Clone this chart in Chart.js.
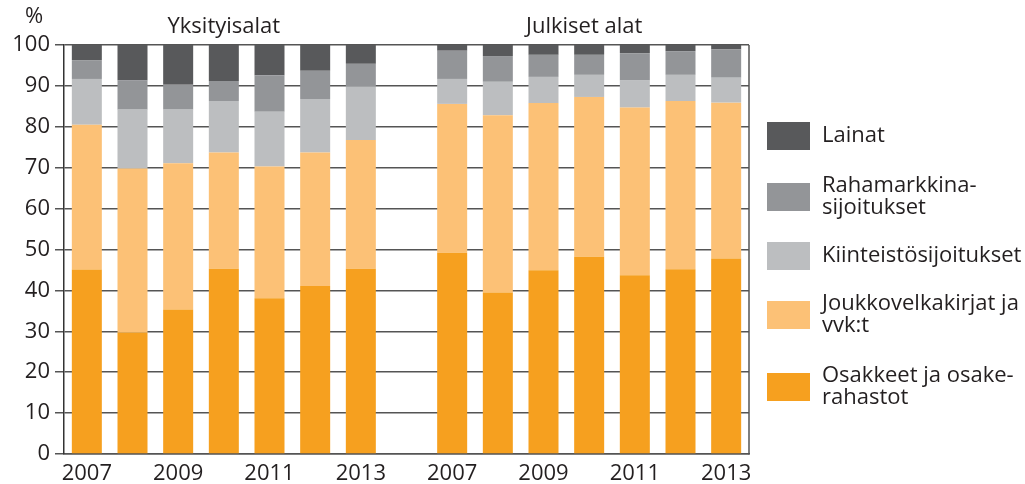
<!DOCTYPE html>
<html>
<head>
<meta charset="utf-8">
<script src="https://cdn.jsdelivr.net/npm/chart.js@4/dist/chart.umd.min.js"></script>
<style>
html,body{margin:0;padding:0;background:#fff;}
canvas{display:block;}
</style>
</head>
<body>
<canvas id="c" width="1025" height="484"></canvas>
<script>
const categories = ['2007','2008','2009','2010','2011','2012','2013','','2007','2008','2009','2010','2011','2012','2013'];
const tickYears = ['2007','2009','2011','2013'];
const groupTitles = ['Yksityisalat','Julkiset alat'];
const yTicks = [0,10,20,30,40,50,60,70,80,90,100];

const osakkeet      = [45.1,29.7,35.3,45.3,38.1,41.1,45.3,null,49.2,39.5,44.9,48.2,43.7,45.2,47.8];
const joukkovelka   = [35.4,40.1,35.8,28.4,32.2,32.6,31.5,null,36.4,43.3,40.9,39.1,41.0,41.1,38.1];
const kiinteisto    = [11.2,14.4,13.1,12.6,13.4,13.1,13.0,null, 6.1, 8.2, 6.4, 5.4, 6.6, 6.4, 6.1];
const rahamarkkina  = [ 4.6, 7.2, 6.1, 4.9, 8.9, 6.9, 5.6,null, 6.9, 6.3, 5.4, 4.9, 6.7, 5.8, 6.9];
const lainat        = [ 3.7, 8.6, 9.7, 8.8, 7.4, 6.3, 4.6,null, 1.4, 2.7, 2.4, 2.4, 2.0, 1.5, 1.1];

const seriesNames = [['Osakkeet ja osake-','rahastot'],['Joukkovelkakirjat ja','vvk:t'],['Kiinteistösijoitukset'],['Rahamarkkina-','sijoitukset'],['Lainat']];
const colors = ['#f6a01f','#fcc176','#bcbec0','#939598','#58595b'];

const FONT = 'Open Sans';
const FS = 22;
const TXT = '#231f20';

const decor = {
  id:'decor',
  afterDraw(chart){
    const ctx = chart.ctx, ca = chart.chartArea, xs = chart.scales.x;
    ctx.save();
    ctx.strokeStyle = '#555';
    ctx.lineWidth = 1.5;
    ctx.beginPath(); ctx.moveTo(ca.right, ca.top); ctx.lineTo(ca.right, ca.bottom+0.5); ctx.stroke();
    ctx.fillStyle = TXT;
    ctx.font = FS+'px "'+FONT+'"';
    ctx.textAlign = 'center'; ctx.textBaseline = 'middle';
    ctx.fillText('%', 34, 17);
    ctx.fillText(groupTitles[0], xs.getPixelForValue(3), 27);
    ctx.fillText(groupTitles[1], xs.getPixelForValue(11) - 5, 27);
    const centers = [136,197,256,315,387];
    const order = [4,3,2,1,0];
    ctx.textAlign = 'left';
    order.forEach((di,i)=>{
      const cy = centers[i];
      ctx.fillStyle = colors[di];
      ctx.fillRect(ca.right+18, cy-14, 43, 28);
      ctx.fillStyle = TXT;
      const lines = seriesNames[di];
      const lh = 22;
      lines.forEach((t,k)=>{
        ctx.fillText(t, ca.right+73, cy + (k-(lines.length-1)/2)*lh);
      });
    });
    ctx.restore();
  }
};

new Chart(document.getElementById('c'), {
  type:'bar',
  data:{
    labels:categories,
    datasets:[osakkeet,joukkovelka,kiinteisto,rahamarkkina,lainat].map((d,i)=>({
      label:seriesNames[i].join(' '),
      data:d,
      backgroundColor:colors[i],
      borderWidth:0,
      barPercentage:0.657,
      categoryPercentage:1.0
    }))
  },
  options:{
    responsive:false,
    animation:false,
    devicePixelRatio:1,
    layout:{padding:{top:45,right:276,left:0,bottom:0}},
    plugins:{legend:{display:false},tooltip:{enabled:false}},
    scales:{
      x:{
        stacked:true,
        offset:true,
        grid:{display:false},
        border:{display:true,color:'#555',width:1.5},
        ticks:{
          autoSkip:false,maxRotation:0,padding:1,color:TXT,
          font:{family:FONT,size:FS,lineHeight:1.0},
          callback:(v,i)=>tickYears.includes(categories[i])?categories[i]:''
        },
        afterFit(s){ s.height = 30; }
      },
      y:{
        stacked:true,min:0,max:100,
        afterBuildTicks(s){ s.ticks = yTicks.map(v=>({value:v})); },
        grid:{color:'#555',lineWidth:1.5,tickLength:9,drawTicks:true},
        border:{display:true,color:'#333',width:1.5},
        ticks:{padding:5,color:TXT,font:{family:FONT,size:FS}},
        afterFit(s){ s.width = 64; }
      }
    }
  },
  plugins:[decor]
});
</script>
</body>
</html>
